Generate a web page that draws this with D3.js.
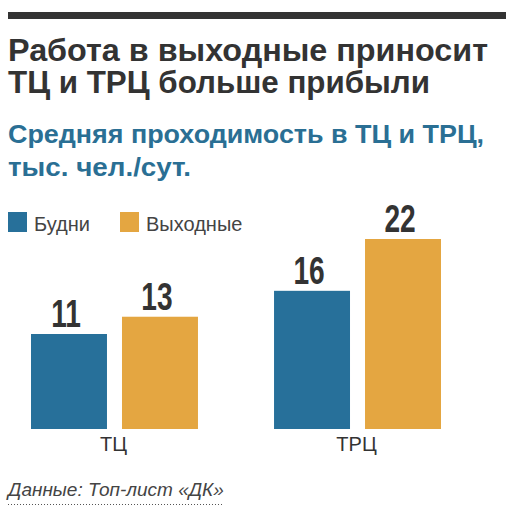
<!DOCTYPE html>
<html>
<head>
<meta charset="utf-8">
<script src="https://cdn.jsdelivr.net/npm/d3@7"></script>
<style>
  body { margin: 0; background: #fff; }
  svg { display: block; }
</style>
</head>
<body>
<svg id="chart"></svg>
<script>
// data
var categories = ["ТЦ", "ТРЦ"];
var seriesNames = ["Будни", "Выходные"];
var weekdays = [11, 16];
var weekends = [13, 22];

var colors = ["#27709a", "#e4a641"];

var W = 524, H = 522;

var svg = d3.select("#chart")
  .attr("width", W)
  .attr("height", H);

// top rule
svg.append("rect")
  .attr("x", 8).attr("y", 12)
  .attr("width", 498).attr("height", 7)
  .attr("fill", "#333");

// titles
var titleLines = ["Работа в выходные приносит", "ТЦ и ТРЦ больше прибыли"];
var titleWidths = [480, 422];
svg.selectAll("text.title")
  .data(titleLines)
  .enter()
  .append("text")
  .classed("title", true)
  .attr("x", 8)
  .attr("y", function(d, i) { return 61 + i * 32; })
  .attr("font-family", "Liberation Sans, Arial, sans-serif")
  .attr("font-weight", "bold")
  .attr("font-size", 31)
  .attr("textLength", function(d, i) { return titleWidths[i]; })
  .attr("lengthAdjust", "spacingAndGlyphs")
  .attr("fill", "#333")
  .text(function(d) { return d; });

var subLines = ["Средняя проходимость в ТЦ и ТРЦ,", "тыс. чел./сут."];
var subWidths = [476, 183];
svg.selectAll("text.sub")
  .data(subLines)
  .enter()
  .append("text")
  .classed("sub", true)
  .attr("x", 8)
  .attr("y", function(d, i) { return 143 + i * 33; })
  .attr("font-family", "Liberation Sans, Arial, sans-serif")
  .attr("font-weight", "bold")
  .attr("font-size", 26)
  .attr("textLength", function(d, i) { return subWidths[i]; })
  .attr("lengthAdjust", "spacingAndGlyphs")
  .attr("fill", "#2a6f94")
  .text(function(d) { return d; });

// legend
var legendX = [8, 120];
var legend = svg.selectAll("g.legend")
  .data(seriesNames)
  .enter()
  .append("g")
  .classed("legend", true)
  .attr("transform", function(d, i) { return "translate(" + legendX[i] + ",212)"; });

legend.append("rect")
  .attr("width", 19).attr("height", 20)
  .attr("fill", function(d, i) { return colors[i]; });

legend.append("text")
  .attr("x", 26).attr("y", 19)
  .attr("font-family", "Liberation Sans, Arial, sans-serif")
  .attr("font-size", 20)
  .attr("fill", "#444")
  .text(function(d) { return d; });

// chart area
var baseY = 429;
var yScale = d3.scaleLinear()
  .domain([0, 22])
  .range([baseY, 239]);

var x0 = d3.scaleBand()
  .domain(categories)
  .range([31, 441])
  .paddingInner(0.313);

var x1 = d3.scaleBand()
  .domain(seriesNames)
  .range([0, x0.bandwidth()])
  .paddingInner(0.165);

var rows = categories.map(function(c, i) {
  return { cat: c, vals: [weekdays[i], weekends[i]] };
});

var groups = svg.selectAll("g.group")
  .data(rows)
  .enter()
  .append("g")
  .classed("group", true)
  .attr("transform", function(d) { return "translate(" + x0(d.cat) + ",0)"; });

groups.selectAll("rect")
  .data(function(d) {
    return d.vals.map(function(v, j) { return { s: seriesNames[j], v: v, j: j }; });
  })
  .enter()
  .append("rect")
  .attr("x", function(d) { return x1(d.s); })
  .attr("width", x1.bandwidth())
  .attr("y", function(d) { return yScale(d.v); })
  .attr("height", function(d) { return baseY - yScale(d.v); })
  .attr("fill", function(d) { return colors[d.j]; });

// value labels, squeezed to look condensed
groups.selectAll("text.val")
  .data(function(d) {
    return d.vals.map(function(v, j) { return { s: seriesNames[j], v: v }; });
  })
  .enter()
  .append("text")
  .classed("val", true)
  .attr("transform", function(d) {
    var cx = x1(d.s) + x1.bandwidth() / 2 - 3;
    var cy = yScale(d.v) - 7;
    return "translate(" + cx + "," + cy + ") scale(0.74,1)";
  })
  .attr("text-anchor", "middle")
  .attr("font-family", "Liberation Sans, Arial, sans-serif")
  .attr("font-weight", "bold")
  .attr("font-size", 38)
  .attr("fill", "#333")
  .text(function(d) { return d.v; });

// category labels
svg.selectAll("text.cat")
  .data(categories)
  .enter()
  .append("text")
  .classed("cat", true)
  .attr("x", function(d) { return x0(d) + x0.bandwidth() / 2 - 1; })
  .attr("y", 451)
  .attr("text-anchor", "middle")
  .attr("font-family", "Liberation Sans, Arial, sans-serif")
  .attr("font-size", 20)
  .attr("fill", "#333")
  .text(function(d) { return d; });

// source
svg.append("text")
  .attr("x", 8).attr("y", 496)
  .attr("font-family", "Liberation Sans, Arial, sans-serif")
  .attr("font-style", "italic")
  .attr("font-size", 19)
  .attr("fill", "#444")
  .text("Данные: Топ-лист «ДК»");

svg.append("line")
  .attr("x1", 8).attr("x2", 222)
  .attr("y1", 504.5).attr("y2", 504.5)
  .attr("stroke", "#555")
  .attr("stroke-width", 1)
  .attr("stroke-dasharray", "1,2");
</script>
</body>
</html>
